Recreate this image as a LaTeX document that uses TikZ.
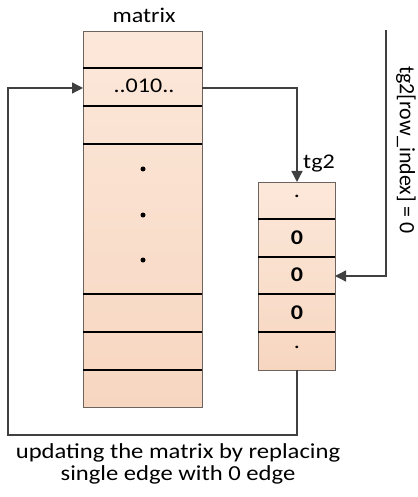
\documentclass[tikz,border=0pt]{standalone}
\usepackage{fontspec}
\setmainfont{Carlito}[FakeStretch=1.15]
\newfontfamily\plainfam{Carlito}
\usetikzlibrary{arrows.meta}
\definecolor{cellA}{RGB}{252,232,218}
\definecolor{cellB}{RGB}{247,214,192}
\definecolor{wire}{RGB}{64,64,64}
\definecolor{frame}{RGB}{110,100,95}
\tikzset{
  x=1bp, y=-1bp,
  cellbox/.style={draw=frame, line width=0.8bp, top color=cellA, bottom color=cellB},
  rowline/.style={line width=1.6bp, black},
  wireline/.style={draw=wire, line width=1.3bp},
  tip/.style={-{Triangle[length=11bp,width=11bp]}},
  lbl/.style={font=\fontsize{21}{24}\selectfont, inner sep=0pt},
  bold lbl/.style={font=\fontsize{21}{24}\selectfont\bfseries, inner sep=0pt},
  side lbl/.style={font=\plainfam\fontsize{22}{26}\selectfont, inner sep=0pt, rotate=-90},
  captext/.style={font=\fontsize{21.5}{22}\selectfont, align=center, inner sep=0pt},
  dotmark/.style={fill=black, circle, inner sep=0pt, minimum size=5bp}
}
\begin{document}
\begin{tikzpicture}
\useasboundingbox (0,0) rectangle (417,497);

% matrix column
\node[cellbox, minimum width=119bp, minimum height=376bp, inner sep=0pt, anchor=north west] (mat) at (83,31) {};
\foreach \yy in {68,106,144,294,332,370}
  \draw[rowline] (83,\yy) -- (202,\yy);
\node[lbl] (mattitle) at (144,15) {matrix};
\node[lbl] (row) at (144,86) {..010..};
\coordinate (rowL) at (83,88);
\coordinate (rowR) at (202,88);
\node[dotmark] (d1) at (143,169) {};
\node[dotmark] (d2) at (143,215) {};
\node[dotmark] (d3) at (143,260) {};

% tg2 column
\node[cellbox, minimum width=77bp, minimum height=188bp, inner sep=0pt, anchor=north west] (tg) at (258,182) {};
\foreach \yy in {219,257,294,332}
  \draw[rowline] (258,\yy) -- (335,\yy);
\node[lbl] (tgtitle) at (319,164) {tg2};
\node[lbl] (c1) at (297,196) {.};
\node[bold lbl] (c2) at (297,238) {0};
\node[bold lbl] (c3) at (297,275) {0};
\node[bold lbl] (c4) at (297,313) {0};
\node[lbl] (c5) at (297,347) {.};
\coordinate (tgTop) at (297,182);
\coordinate (tgBot) at (297,370);
\coordinate (tgRow) at (335,276);

% connectors
\draw[wireline, tip] (rowR) -| (tgTop);
\coordinate (feed) at (386,30);
\draw[wireline, tip] (feed) |- (tgRow);
\node[side lbl] (feedlbl) at (406,150) {tg2[row\_index] = 0};
\coordinate (loopA) at (297,435);
\coordinate (loopB) at (8,435);
\draw[wireline, tip] (tgBot) -- (loopA) -- (loopB) |- (rowL);

% caption
\node[captext] (caption) at (178,464) {updating the matrix by replacing\\single edge with 0 edge};
\end{tikzpicture}
\end{document}
